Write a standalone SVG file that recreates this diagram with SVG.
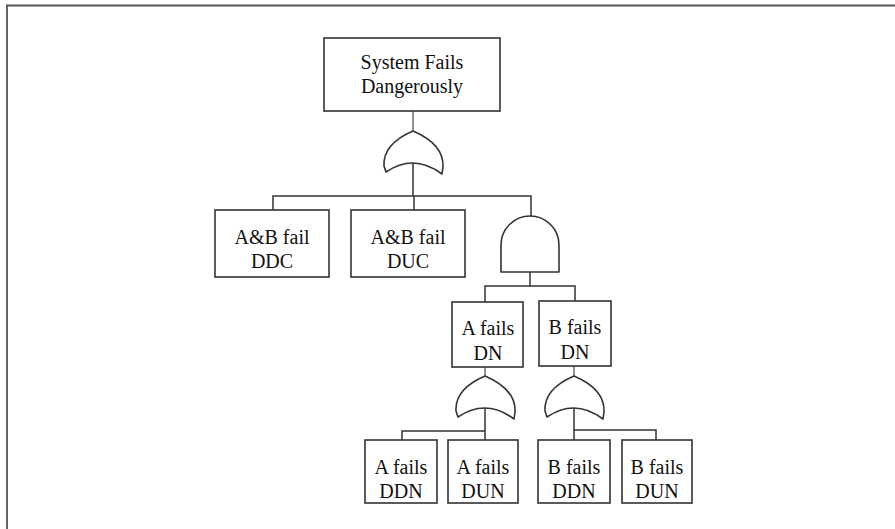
<svg xmlns="http://www.w3.org/2000/svg" width="895" height="529" viewBox="0 0 895 529">
  <style>
    .box { fill: #fff; stroke: #333; stroke-width: 1.6; }
    .gate { fill: #fff; stroke: #333; stroke-width: 1.6; stroke-linejoin: round; }
    .lbl { font-family: "Liberation Serif", "Times New Roman", serif; font-size: 20px; fill: #111; text-anchor: middle; }
    .wire { fill: none; stroke: #333; stroke-width: 1.5; }
    .feed { fill: none; stroke: #888; stroke-width: 1.8; }
    .frame { fill: none; stroke: #555; stroke-width: 1.8; }
  </style>
  <defs>
    <!-- OR gate outline, origin at the input tip -->
    <path id="or" d="M0,0 C-14,6 -30,17 -29,35 L-27,41 Q1,22 29,43 L30,36 C31,17 14,6 0,0 Z"/>
  </defs>

  <rect width="895" height="529" fill="#fff"/>

  <!-- page frame edges -->
  <g id="frame">
    <line class="frame" x1="6" y1="5.5" x2="895" y2="5.5"/>
    <line class="frame" x1="7" y1="5" x2="7" y2="529"/>
  </g>

  <!-- connectors -->
  <g id="connectors">
    <line class="feed" x1="413" y1="111" x2="413" y2="131"/>
    <line class="wire" x1="413" y1="161" x2="413" y2="196"/>
    <polyline class="wire" points="273,210 273,196 531,196 531,216"/>
    <line class="wire" x1="414" y1="196" x2="414" y2="210"/>
    <line class="wire" x1="530" y1="272" x2="530" y2="286"/>
    <polyline class="wire" points="485,302 485,286 575,286 575,301"/>
    <line class="feed" x1="485" y1="367" x2="485" y2="376"/>
    <line class="feed" x1="574" y1="366" x2="574" y2="376"/>
    <line class="wire" x1="485" y1="406" x2="485" y2="440"/>
    <polyline class="wire" points="402,440 402,431 485,431"/>
    <line class="wire" x1="574" y1="406" x2="574" y2="440"/>
    <polyline class="wire" points="574,430 656,430 656,440"/>
  </g>

  <!-- gates -->
  <g id="gate-or-top"><use href="#or" class="gate" transform="translate(413,131)"/></g>
  <g id="gate-and"><path class="gate" d="M501,272 L501,245 A29,29 0 0 1 559,245 L559,272 Z"/></g>
  <g id="gate-or-a"><use href="#or" class="gate" transform="translate(485,376)"/></g>
  <g id="gate-or-b"><use href="#or" class="gate" transform="translate(574,376)"/></g>

  <!-- events -->
  <g id="top-event">
    <rect class="box" x="324" y="38" width="176" height="73"/>
    <text class="lbl" x="412" y="69">System Fails</text>
    <text class="lbl" x="412" y="93">Dangerously</text>
  </g>
  <g id="ab-ddc">
    <rect class="box" x="215" y="210" width="114" height="67"/>
    <text class="lbl" x="272" y="244">A&amp;B fail</text>
    <text class="lbl" x="272" y="268">DDC</text>
  </g>
  <g id="ab-duc">
    <rect class="box" x="351" y="210" width="114" height="67"/>
    <text class="lbl" x="408" y="244">A&amp;B fail</text>
    <text class="lbl" x="408" y="268">DUC</text>
  </g>
  <g id="a-dn">
    <rect class="box" x="452" y="302" width="71" height="65"/>
    <text class="lbl" x="488" y="335">A fails</text>
    <text class="lbl" x="488" y="360">DN</text>
  </g>
  <g id="b-dn">
    <rect class="box" x="539" y="301" width="72" height="65"/>
    <text class="lbl" x="575" y="334">B fails</text>
    <text class="lbl" x="575" y="359">DN</text>
  </g>
  <g id="a-ddn">
    <rect class="box" x="365" y="440" width="72" height="63"/>
    <text class="lbl" x="401" y="474">A fails</text>
    <text class="lbl" x="401" y="498">DDN</text>
  </g>
  <g id="a-dun">
    <rect class="box" x="448" y="440" width="70" height="63"/>
    <text class="lbl" x="483" y="474">A fails</text>
    <text class="lbl" x="483" y="498">DUN</text>
  </g>
  <g id="b-ddn">
    <rect class="box" x="538" y="440" width="72" height="63"/>
    <text class="lbl" x="574" y="474">B fails</text>
    <text class="lbl" x="574" y="498">DDN</text>
  </g>
  <g id="b-dun">
    <rect class="box" x="622" y="440" width="70" height="63"/>
    <text class="lbl" x="657" y="474">B fails</text>
    <text class="lbl" x="657" y="498">DUN</text>
  </g>
</svg>
